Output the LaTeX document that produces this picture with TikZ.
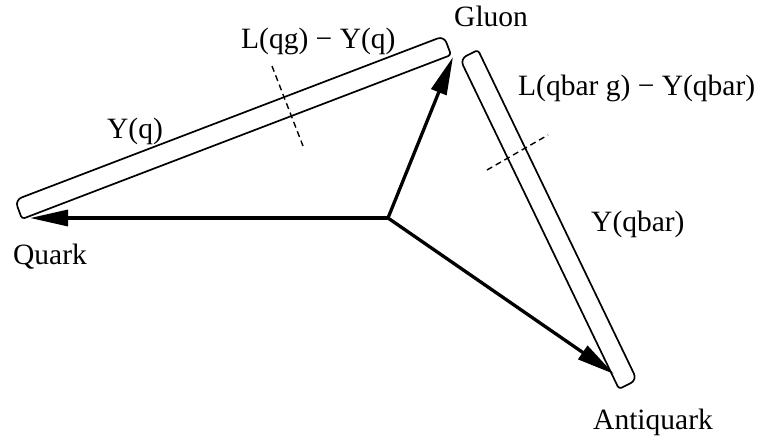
\documentclass[tikz,border=0pt]{standalone}
\usepackage{fontspec}
\setmainfont{Liberation Serif}
\usetikzlibrary{arrows.meta,calc}
\tikzset{
  tube/.style={draw, line width=1.7pt, line join=round},
  parton/.style={line width=3.3pt, line cap=round, -{Triangle[length=38pt,width=16pt]}},
  cut/.style={line width=1.4pt, dash pattern=on 6pt off 4pt},
  lbl/.style={inner sep=0pt, font=\fontsize{29.5}{32}\selectfont, anchor=base west}
}
\begin{document}
\begin{tikzpicture}[x=1pt,y=-1pt]
\useasboundingbox (0,0) rectangle (761,442);
% tubes (strings)
\coordinate (t1a) at (22,219);
\coordinate (t1b) at (15,200);
\coordinate (t1c) at (444,36);
\coordinate (t1d) at (451,55);
\draw[tube] ($(t1a)!0.5!(t1d)$) [rounded corners=3pt] -- (t1a) [rounded corners=7pt] -- (t1b) -- (t1c) [rounded corners=3pt] -- (t1d) -- cycle;
\coordinate (t2a) at (460,59);
\coordinate (t2b) at (478,50);
\coordinate (t2c) at (637,380);
\coordinate (t2d) at (619,389);
\draw[tube] ($(t2b)!0.5!(t2c)$) [rounded corners=3pt] -- (t2b) [rounded corners=7pt] -- (t2a) [rounded corners=3pt] -- (t2d) [rounded corners=7pt] -- (t2c) -- cycle;
% partons
\coordinate (c) at (388,218);
\coordinate (q) at (30,218);
\coordinate (g) at (453,57);
\coordinate (a) at (614,374);
\draw[parton] (c) -- (q);
\draw[parton] (c) -- (g);
\draw[parton] (c) -- (a);
% cuts
\coordinate (d1a) at (272,66);
\coordinate (d1b) at (303,146);
\draw[cut] (d1a) -- (d1b);
\coordinate (d2a) at (487,170);
\coordinate (d2b) at (548,135);
\draw[cut] (d2a) -- (d2b);
% labels
\node[lbl] (lg) at (454,26) {Gluon};
\node[lbl] (lq) at (13,264) {Quark};
\node[lbl] (la) at (593,429) {Antiquark};
\node[lbl] (l1) at (241,48) {L(qg) − Y(q)};
\node[lbl] (l2) at (107,138) {Y(q)};
\node[lbl] (l3) at (518,95) {L(qbar g) − Y(qbar)};
\node[lbl] (l4) at (591,231) {Y(qbar)};
\end{tikzpicture}
\end{document}
